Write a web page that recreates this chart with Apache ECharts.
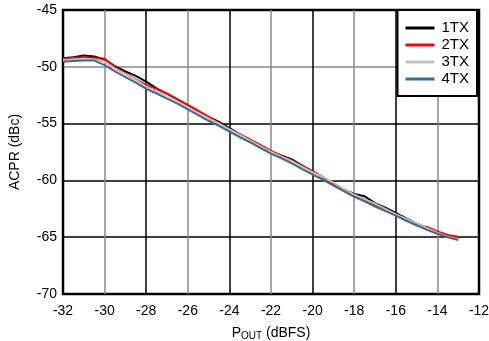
<!DOCTYPE html>
<html><head><meta charset="utf-8">
<script src="https://cdn.jsdelivr.net/npm/echarts@6/dist/echarts.min.js"></script>
<style>html,body{margin:0;padding:0;background:#fff}#c{width:489px;height:341px}</style>
</head><body><div id="c"></div>
<script>
var pout = [-32,-31.5,-31,-30.5,-30,-29.5,-29,-28.5,-28,-27.5,-27,-26.5,-26,-25.5,-25,-24.5,-24,-23.5,-23,-22.5,-22,-21.5,-21,-20.5,-20,-19.5,-19,-18.5,-18,-17.5,-17,-16.5,-16,-15.5,-15,-14.5,-14,-13.5,-13];
var tx1 = [-49.25,-49.15,-49.0,-49.1,-49.35,-49.95,-50.4,-50.8,-51.3,-51.9,-52.4,-52.9,-53.4,-53.95,-54.4,-54.85,-55.4,-55.95,-56.45,-56.95,-57.45,-57.8,-58.15,-58.7,-59.2,-59.75,-60.25,-60.8,-61.2,-61.4,-62.0,-62.4,-62.85,-63.35,-63.8,-64.2,-64.55,-64.95,-65.15];
var tx2 = [-49.3,-49.2,-49.15,-49.2,-49.3,-50.0,-50.6,-51.1,-51.6,-51.95,-52.35,-52.85,-53.35,-53.85,-54.4,-54.95,-55.5,-55.95,-56.4,-56.9,-57.4,-57.85,-58.25,-58.75,-59.2,-59.7,-60.35,-60.9,-61.35,-61.7,-62.15,-62.55,-62.95,-63.4,-63.95,-64.1,-64.5,-64.8,-64.95];
var tx3 = [-49.4,-49.35,-49.3,-49.35,-49.55,-50.15,-50.65,-51.15,-51.75,-52.15,-52.55,-53.05,-53.55,-54.05,-54.55,-55.0,-55.5,-56.0,-56.5,-57.0,-57.5,-57.9,-58.3,-58.8,-59.3,-59.7,-60.2,-60.75,-61.25,-61.65,-62.05,-62.5,-63.0,-63.4,-63.8,-64.2,-64.6,-64.95,-65.15];
var tx4 = [-49.55,-49.5,-49.45,-49.45,-49.85,-50.4,-50.9,-51.4,-51.95,-52.35,-52.8,-53.25,-53.75,-54.25,-54.75,-55.2,-55.7,-56.2,-56.65,-57.15,-57.65,-58.05,-58.5,-59.0,-59.5,-59.95,-60.45,-60.95,-61.45,-61.85,-62.3,-62.7,-63.1,-63.55,-63.95,-64.35,-64.7,-65.0,-65.25];
var names = ['1TX','2TX','3TX','4TX'];
var colors = ['#000000','#ff0000','#c0c0c0','#3b6e8a'];
var sets = [tx1, tx2, tx3, tx4];

function pairs(a){ return pout.map(function(x,i){ return [x, a[i]]; }); }
var font = 'Liberation Sans, Arial, sans-serif';
var chart = echarts.init(document.getElementById('c'), null, {renderer:'canvas'});
chart.setOption({
  animation: false,
  backgroundColor: '#fff',
  grid: {left: 63, right: 10, top: 10, bottom: 47, show: true, borderColor: '#000', borderWidth: 2.5, backgroundColor: 'transparent', outerBoundsMode: 'none', containLabel: false},
  xAxis: {
    type: 'value', min: -32, max: -12, interval: 2,
    name: '{p|P}{s|OUT}{p| (dBFS)}', nameLocation: 'middle', nameGap: 31,
    nameTextStyle: {rich: {p: {fontSize: 14, fontFamily: font, color: '#000'}, s: {fontSize: 10, fontFamily: font, color: '#000', padding: [6,0,0,0]}}},
    axisLine: {show: false}, axisTick: {show: false},
    axisLabel: {color: '#000', fontSize: 14, fontFamily: font, margin: 10},
    splitLine: {show: true, lineStyle: {color: ['#000','#888'], width: 1.5}}
  },
  yAxis: {
    type: 'value', min: -70, max: -45, interval: 5,
    name: 'ACPR (dBc)', nameLocation: 'middle', nameGap: 41,
    nameTextStyle: {fontSize: 14, fontFamily: font, color: '#000'},
    axisLine: {show: false}, axisTick: {show: false},
    axisLabel: {color: '#000', fontSize: 14, fontFamily: font, margin: 6},
    splitLine: {show: true, lineStyle: {color: ['#000','#000','#000','#000','#888','#000'], width: 1.5}}
  },
  legend: {
    orient: 'vertical', right: 12, top: 10, data: names,
    backgroundColor: '#fff', borderColor: '#000', borderWidth: 2,
    padding: [10, 8, 9, 8], itemGap: 1, itemWidth: 29, itemHeight: 3, icon: 'rect',
    textStyle: {fontSize: 15, fontFamily: font, color: '#000', lineHeight: 16, padding: [0,0,0,2]}
  },
  series: sets.map(function(s, i){
    return {name: names[i], type: 'line', data: pairs(s), symbol: 'none', smooth: false,
      lineStyle: {color: colors[i], width: 2}, itemStyle: {color: colors[i]}};
  })
});
</script></body></html>
